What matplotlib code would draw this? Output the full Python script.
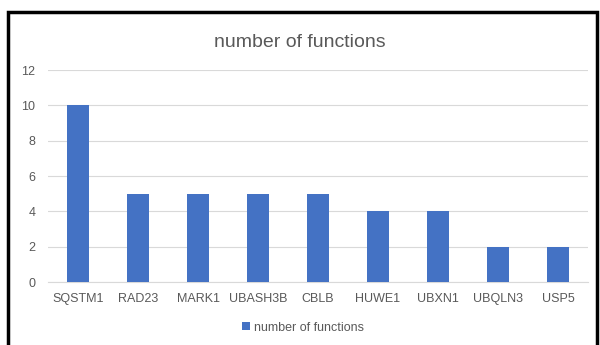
import matplotlib.pyplot as plt
from matplotlib.patches import Rectangle

genes = ['SQSTM1', 'RAD23', 'MARK1', 'UBASH3B', 'CBLB',
         'HUWE1', 'UBXN1', 'UBQLN3', 'USP5']
n_functions = [10, 5, 5, 5, 5, 4, 4, 2, 2]

plt.rcParams['font.family'] = ['Liberation Sans', 'DejaVu Sans']

fig = plt.figure(figsize=(6, 3.45), dpi=100)
ax = fig.add_axes([0.08, 0.1826, 0.9, 0.6144])

bars = ax.bar(range(len(genes)), n_functions, width=0.37, color='#4472C4',
              label='number of functions', zorder=3)

ax.set_xlim(-0.5, len(genes) - 0.5)
ax.set_ylim(0, 12)
ax.set_yticks(range(0, 13, 2))
ax.set_xticks(range(len(genes)))
ax.set_xticklabels(genes)
ax.tick_params(axis='both', length=0, labelsize=9, labelcolor='#595959')
ax.tick_params(axis='y', pad=9)
ax.tick_params(axis='x', pad=8)
ax.grid(axis='y', color='#d9d9d9', linewidth=0.8, zorder=0)
for side in ['top', 'right', 'left']:
    ax.spines[side].set_visible(False)
ax.spines['bottom'].set_color('#d9d9d9')

fig.text(0.5, 0.878, 'number of functions', ha='center', va='center',
         fontsize=14, color='#595959')
fig.legend(handles=[bars], loc='center', bbox_to_anchor=(0.505, 0.05),
           frameon=False, fontsize=9, labelcolor='#595959',
           handlelength=0.6, handleheight=0.6, handletextpad=0.3)

# thick outline around the chart, open at the bottom edge
fig.add_artist(Rectangle((0.013, -0.1), 0.982, 1.066, transform=fig.transFigure,
                         fill=False, edgecolor='black', linewidth=2.5))

fig.savefig('out.png', dpi=100)
